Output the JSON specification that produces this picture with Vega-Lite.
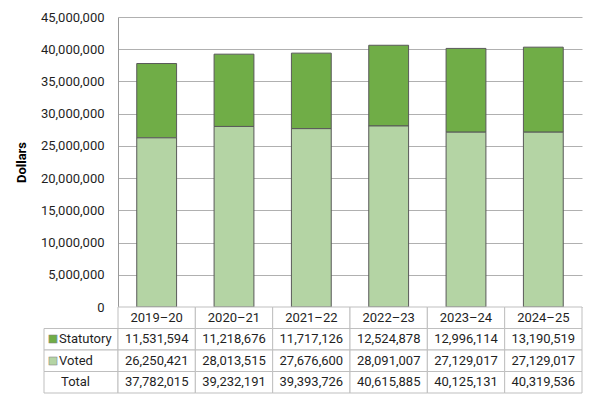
{
  "$schema": "https://vega.github.io/schema/vega-lite/v6.json",
  "padding": {"left": 15, "top": 11, "right": 17, "bottom": 9},
  "background": "white",
  "config": {
    "view": {"stroke": null},
    "font": "Roboto",
    "text": {"font": "Roboto", "fontSize": 13, "color": "#1f1f1f"}
  },
  "datasets": {
    "table": [
      {"year": "2019–20", "row": "Statutory", "amount": 11531594},
      {"year": "2019–20", "row": "Voted", "amount": 26250421},
      {"year": "2019–20", "row": "Total", "amount": 37782015},
      {"year": "2020–21", "row": "Statutory", "amount": 11218676},
      {"year": "2020–21", "row": "Voted", "amount": 28013515},
      {"year": "2020–21", "row": "Total", "amount": 39232191},
      {"year": "2021–22", "row": "Statutory", "amount": 11717126},
      {"year": "2021–22", "row": "Voted", "amount": 27676600},
      {"year": "2021–22", "row": "Total", "amount": 39393726},
      {"year": "2022–23", "row": "Statutory", "amount": 12524878},
      {"year": "2022–23", "row": "Voted", "amount": 28091007},
      {"year": "2022–23", "row": "Total", "amount": 40615885},
      {"year": "2023–24", "row": "Statutory", "amount": 12996114},
      {"year": "2023–24", "row": "Voted", "amount": 27129017},
      {"year": "2023–24", "row": "Total", "amount": 40125131},
      {"year": "2024–25", "row": "Statutory", "amount": 13190519},
      {"year": "2024–25", "row": "Voted", "amount": 27129017},
      {"year": "2024–25", "row": "Total", "amount": 40319536}
    ]
  },
  "columns": 2,
  "spacing": 0,
  "bounds": "flush",
  "concat": [
    {
      "width": 74,
      "height": 290,
      "data": {"values": []},
      "mark": "text",
      "encoding": {}
    },
    {
      "width": 464,
      "height": 290,
      "data": {"name": "table"},
      "transform": [{"filter": "datum.row !== 'Total'"}],
      "mark": {"type": "bar", "stroke": "#595959", "strokeWidth": 1},
      "encoding": {
        "x": {
          "field": "year",
          "type": "nominal",
          "axis": null,
          "scale": {"paddingInner": 0.485, "paddingOuter": 0.2425}
        },
        "y": {
          "field": "amount",
          "type": "quantitative",
          "stack": "zero",
          "scale": {"domain": [0, 45000000], "nice": false},
          "axis": {
            "values": [0, 5000000, 10000000, 15000000, 20000000, 25000000, 30000000, 35000000, 40000000, 45000000],
            "format": ",.0f",
            "title": "Dollars",
            "titleFont": "Roboto",
            "titleFontWeight": "bold",
            "titleFontSize": 13,
            "titleColor": "#000000",
            "titlePadding": 12,
            "labelFont": "Roboto",
            "labelFontSize": 13,
            "labelColor": "#1f1f1f",
            "labelPadding": 14,
            "ticks": false,
            "domainColor": "#999999",
            "grid": true,
            "gridColor": "#b0b0b0"
          }
        },
        "color": {
          "field": "row",
          "type": "nominal",
          "scale": {"domain": ["Statutory", "Voted"], "range": ["#70ad47", "#b4d4a4"]},
          "legend": null
        },
        "order": {"field": "row", "sort": "descending"}
      }
    },
    {
      "width": 74,
      "height": 86,
      "data": {"name": "table"},
      "transform": [{"filter": "datum.year === '2019–20'"}],
      "encoding": {
        "y": {
          "field": "row",
          "type": "nominal",
          "axis": null,
          "scale": {"domain": ["Header", "Statutory", "Voted", "Total"], "padding": 0}
        }
      },
      "layer": [
        {"mark": {"type": "rect", "fill": "white", "stroke": "#bfbfbf", "strokeWidth": 1}},
        {
          "transform": [{"filter": "datum.row !== 'Total'"}],
          "mark": {"type": "text", "align": "left", "dx": -22},
          "encoding": {"text": {"field": "row"}}
        },
        {
          "transform": [{"filter": "datum.row === 'Total'"}],
          "mark": {"type": "text", "align": "left", "dx": -20},
          "encoding": {"text": {"field": "row"}}
        },
        {
          "transform": [{"filter": "datum.row !== 'Total'"}],
          "mark": {"type": "text", "align": "center", "dx": -28, "font": "DejaVu Sans", "fontSize": 10.5, "stroke": "#7f7f7f", "strokeWidth": 0.5, "text": "■"},
          "encoding": {
            "color": {"field": "row", "type": "nominal", "legend": null}
          }
        }
      ]
    },
    {
      "width": 464,
      "height": 86,
      "data": {"name": "table"},
      "encoding": {
        "x": {"field": "year", "type": "nominal", "axis": null, "scale": {"padding": 0}},
        "y": {
          "field": "row",
          "type": "nominal",
          "axis": null,
          "scale": {"domain": ["Header", "Statutory", "Voted", "Total"], "padding": 0}
        }
      },
      "layer": [
        {"mark": {"type": "rect", "fill": "white", "stroke": "#bfbfbf", "strokeWidth": 1}},
        {
          "mark": {"type": "text"},
          "encoding": {"text": {"field": "amount", "type": "quantitative", "format": ",.0f"}}
        },
        {
          "transform": [{"filter": "datum.row === 'Total'"}],
          "mark": {"type": "rect", "fill": "white", "stroke": "#bfbfbf", "strokeWidth": 1},
          "encoding": {"y": {"datum": "Header"}}
        },
        {
          "transform": [{"filter": "datum.row === 'Total'"}],
          "mark": {"type": "text"},
          "encoding": {"y": {"datum": "Header"}, "text": {"field": "year"}}
        }
      ]
    }
  ]
}
